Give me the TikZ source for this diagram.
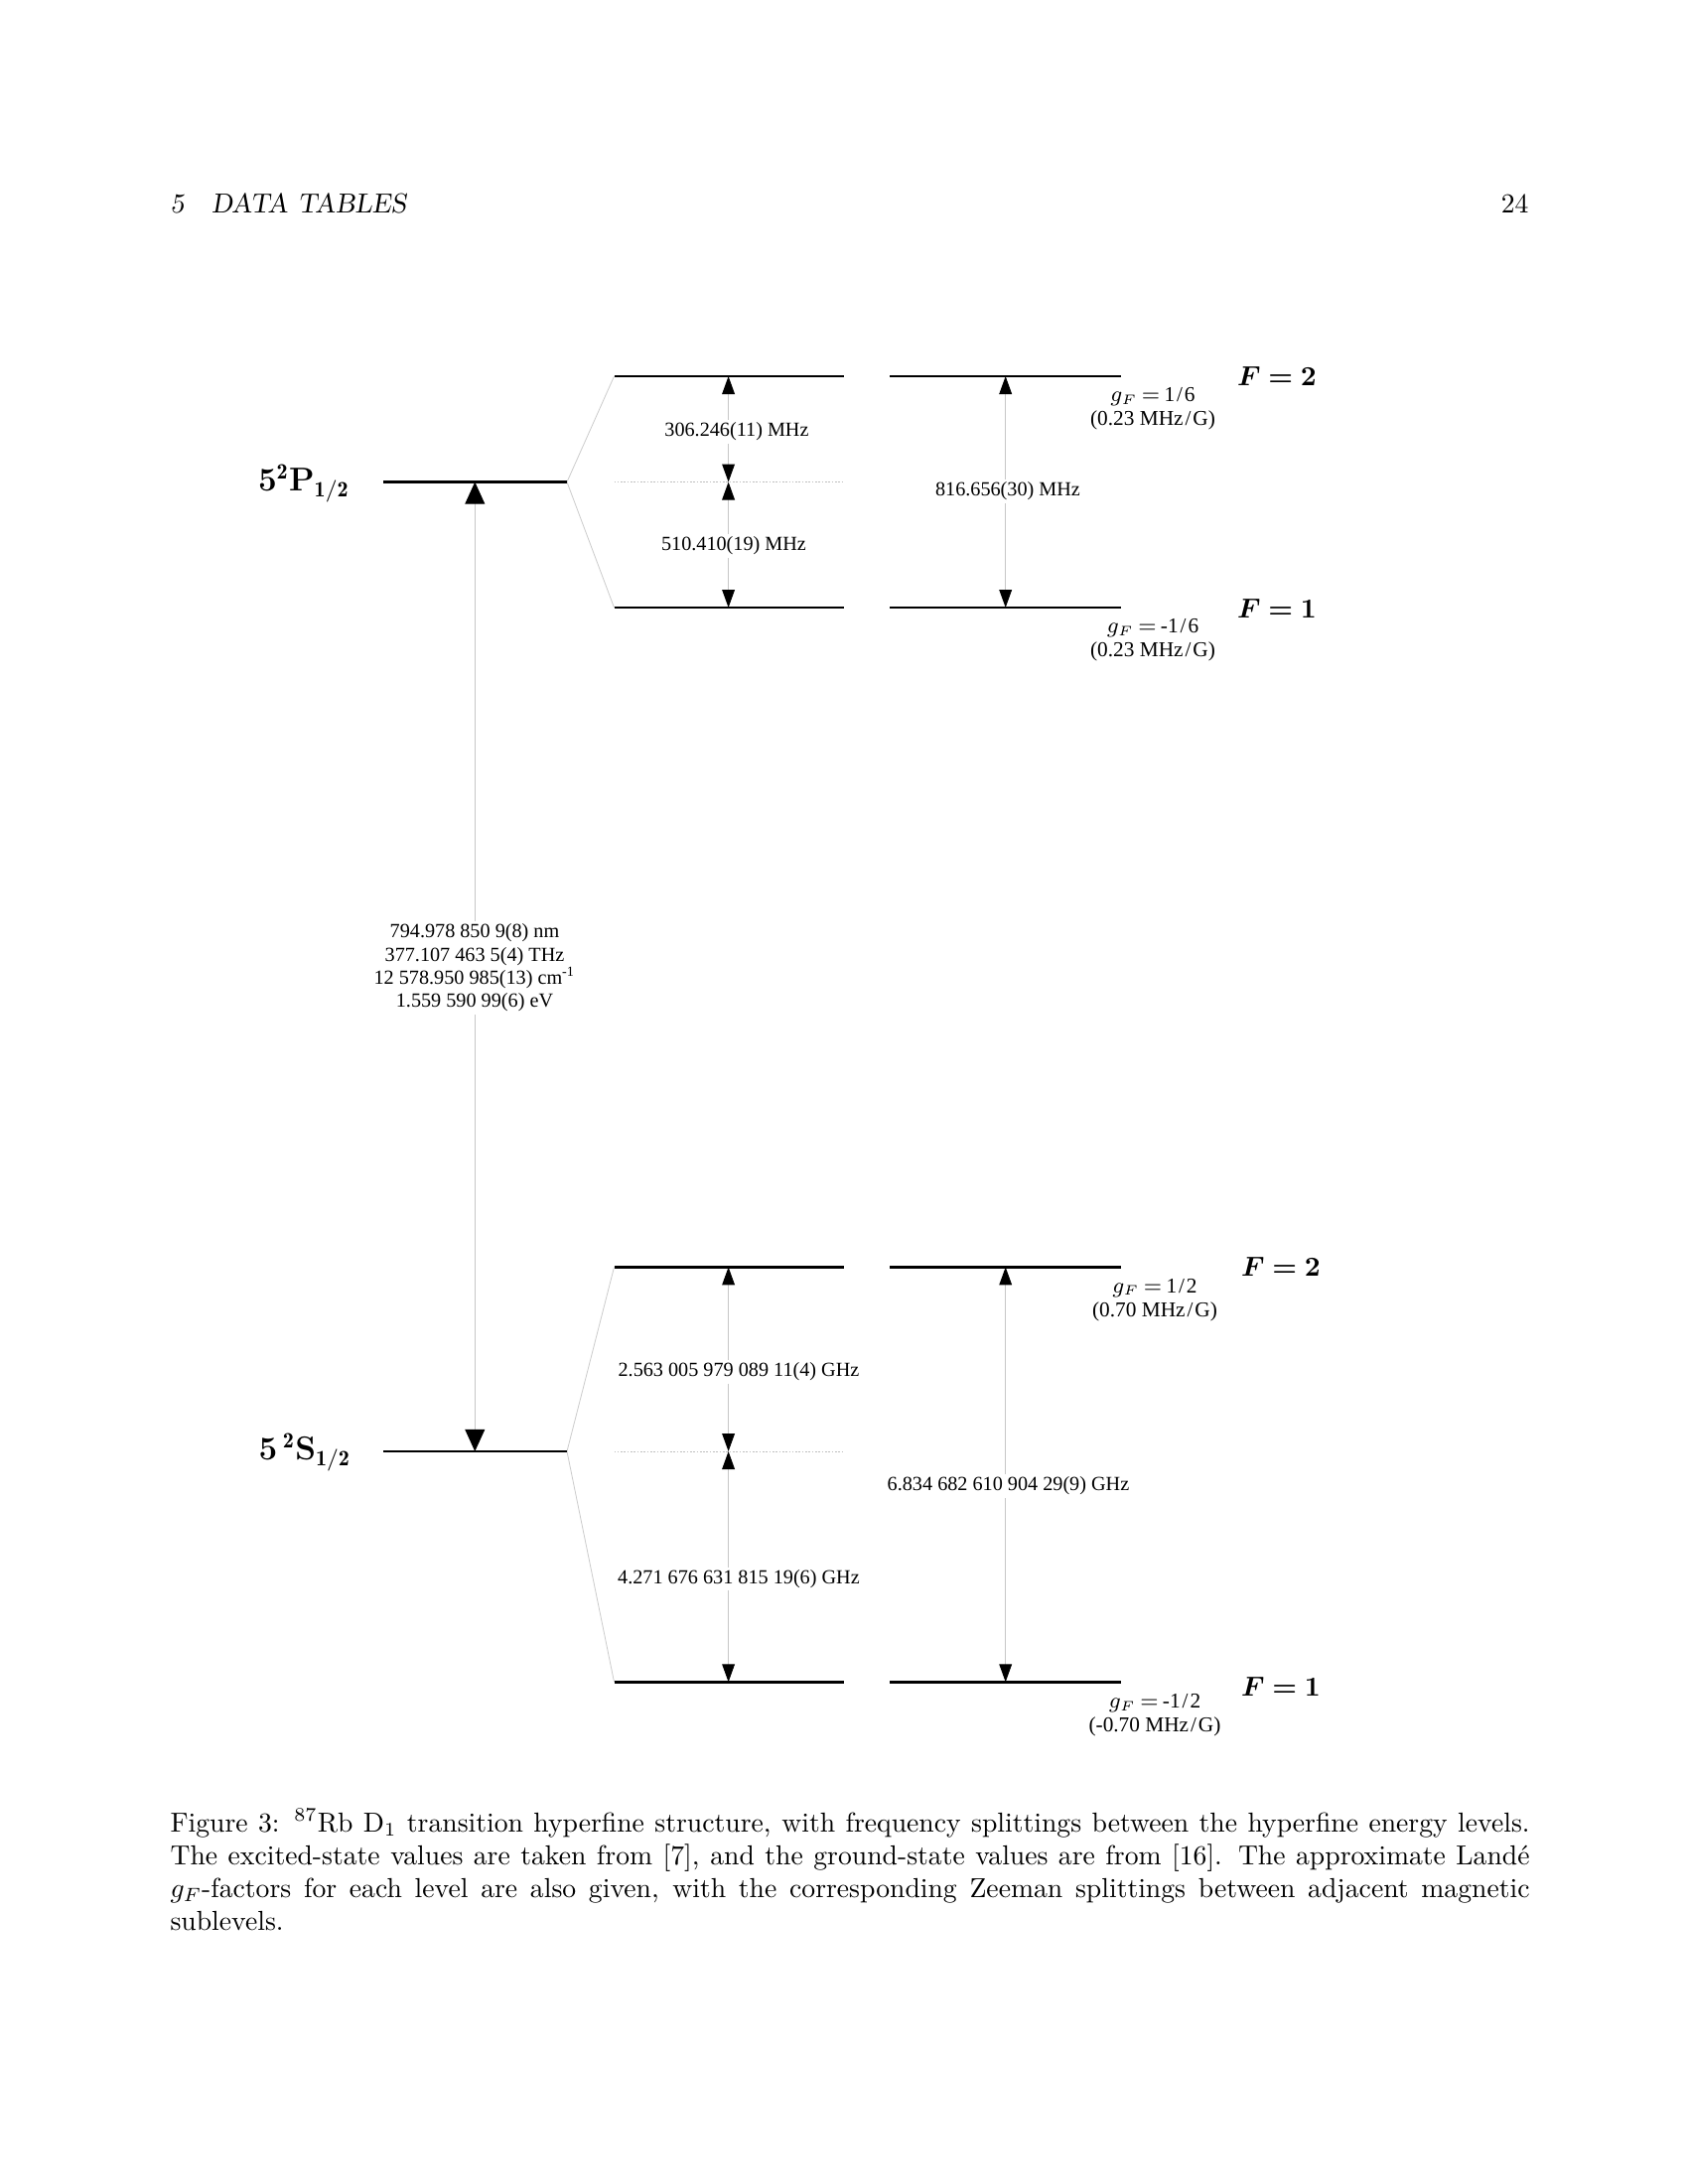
\documentclass[tikz,border=0pt]{standalone}
\usepackage{amsmath}
\usepackage{bm}
\usepackage{fontspec}
\newfontfamily\labfont{Liberation Serif}
\usetikzlibrary{arrows.meta}
\newcommand{\slh}{\kern0.7pt/\kern0.7pt}
\newcommand{\gFeq}{$g_F$\kern1.6pt$=$\kern1.6pt}
\begin{document}
\begin{tikzpicture}[x=0.36135pt,y=-0.36135pt,
  lvl/.style={line width=0.9pt, black},
  splitline/.style={line width=0.3pt, black!20},
  midline/.style={line width=0.3pt, black!25, dash pattern=on 0.6pt off 0.6pt},
  sarrow/.style={line width=0.35pt, black!22, {Triangle[length=6.5pt,width=4.6pt,color=black]}-{Triangle[length=6.5pt,width=4.6pt,color=black]}},
  barrow/.style={line width=0.35pt, black!22, {Triangle[length=8pt,width=7.2pt,color=black]}-{Triangle[length=8pt,width=7.2pt,color=black]}},
  val/.style={font=\labfont\fontsize{7.3}{8.45}\selectfont, fill=white, inner sep=1pt, align=center},
  gflab/.style={font=\labfont\fontsize{7.7}{8.6}\selectfont, inner sep=0pt, align=center},
  flab/.style={font=\normalsize, inner sep=0pt},
  termlab/.style={font=\large\bfseries, inner sep=0pt}
]
\useasboundingbox (0,0) rectangle (1700,2200);

% header
\node[anchor=base west, inner sep=0pt] (hdl) at (171,214) {\slshape 5\quad DATA TABLES};
\node[anchor=base east, inner sep=0pt] (hdr) at (1540,214) {24};

% ---------- excited state ----------
\coordinate (P1) at (386,485.5);  \coordinate (P2) at (571,485.5);
\coordinate (eA1) at (618.5,379); \coordinate (eA2) at (850,379);
\coordinate (eB1) at (896,379);   \coordinate (eB2) at (1129,379);
\coordinate (eC1) at (618.5,612); \coordinate (eC2) at (850,612);
\coordinate (eD1) at (896,612);   \coordinate (eD2) at (1129,612);
\coordinate (eM1) at (618.5,485.5); \coordinate (eM2) at (850,485.5);
\coordinate (ea) at (733.6,379); \coordinate (em) at (733.6,485.5); \coordinate (ec) at (733.6,612);
\coordinate (eb) at (1012.7,379); \coordinate (ed) at (1012.7,612);

% ---------- ground state ----------
\coordinate (S1) at (386,1462);  \coordinate (S2) at (571,1462);
\coordinate (gA1) at (618.5,1276.4); \coordinate (gA2) at (850,1276.4);
\coordinate (gB1) at (896,1276.4);   \coordinate (gB2) at (1129,1276.4);
\coordinate (gC1) at (618.5,1694.3); \coordinate (gC2) at (850,1694.3);
\coordinate (gD1) at (896,1694.3);   \coordinate (gD2) at (1129,1694.3);
\coordinate (gM1) at (618.5,1462); \coordinate (gM2) at (850,1462);
\coordinate (ga) at (733.6,1276.4); \coordinate (gm) at (733.6,1462); \coordinate (gc) at (733.6,1694.3);
\coordinate (gb) at (1012.7,1276.4); \coordinate (gd) at (1012.7,1694.3);

% big transition
\coordinate (tP) at (478.3,485.5); \coordinate (tS) at (478.3,1462);

% split lines and mid lines
\draw[splitline] (P2) -- (eA1);
\draw[splitline] (P2) -- (eC1);
\draw[splitline] (S2) -- (gA1);
\draw[splitline] (S2) -- (gC1);
\draw[midline] (eM1) -- (eM2);
\draw[midline] (gM1) -- (gM2);

% arrows
\draw[barrow] (tP) -- (tS);
\draw[sarrow] (ea) -- (em);
\draw[sarrow] (em) -- (ec);
\draw[sarrow] (eb) -- (ed);
\draw[sarrow] (ga) -- (gm);
\draw[sarrow] (gm) -- (gc);
\draw[sarrow] (gb) -- (gd);

% levels
\draw[lvl] (P1) -- (P2);
\draw[lvl] (eA1) -- (eA2);
\draw[lvl] (eB1) -- (eB2);
\draw[lvl] (eC1) -- (eC2);
\draw[lvl] (eD1) -- (eD2);
\draw[lvl] (S1) -- (S2);
\draw[lvl] (gA1) -- (gA2);
\draw[lvl] (gB1) -- (gB2);
\draw[lvl] (gC1) -- (gC2);
\draw[lvl] (gD1) -- (gD2);

% term labels
\node[termlab] (tPl) at (306,487) {5$^{\mathbf{2}}$P$_{\mathbf{1/2}}$};
\node[termlab] (tSl) at (307,1463) {5\,$^{\mathbf{2}}$S$_{\mathbf{1/2}}$};

% splitting values
\node[val] (v1) at (742,435) {306.246(11) MHz};
\node[val] (v2) at (739,550) {510.410(19) MHz};
\node[val] (v3) at (1015,495) {816.656(30) MHz};
\node[val] (v4) at (478,975) {794.978 850 9(8) nm\\377.107 463 5(4) THz\\12 578.950 985(13) cm\textsuperscript{-1}\\1.559 590 99(6) eV};
\node[val] (v5) at (744,1381.6) {2.563 005 979 089 11(4) GHz};
\node[val] (v6) at (744,1590.5) {4.271 676 631 815 19(6) GHz};
\node[val] (v7) at (1015.5,1496.6) {6.834 682 610 904 29(9) GHz};

% g-factors
\node[gflab] (g1) at (1161,411.7) {\gFeq 1\slh 6\\(0.23 MHz\slh G)};
\node[gflab] (g2) at (1161,644.5) {\gFeq -1\slh 6\\(0.23 MHz\slh G)};
\node[gflab] (g3) at (1163,1309.3) {\gFeq 1\slh 2\\(0.70 MHz\slh G)};
\node[gflab] (g4) at (1163,1728) {\gFeq -1\slh 2\\(-0.70 MHz\slh G)};

% F labels
\node[flab] (f1) at (1286,379) {$\bm{F=2}$};
\node[flab] (f2) at (1286,613) {$\bm{F=1}$};
\node[flab] (f3) at (1290,1276.4) {$\bm{F=2}$};
\node[flab] (f4) at (1290,1698.5) {$\bm{F=1}$};

% caption
\node[anchor=base west, inner sep=0pt] (cap) at (171,1845) {\parbox[t]{494.7pt}{Figure 3: $^{87}$Rb D$_1$ transition hyperfine structure, with frequency splittings between the hyperfine energy levels.\linebreak
The excited-state values are taken from [7], and the ground-state values are from [16].  The approximate Land\'e\linebreak
$g_F$-factors for each level are also given, with the corresponding Zeeman splittings between adjacent magnetic\linebreak
sublevels.}};
\end{tikzpicture}
\end{document}
